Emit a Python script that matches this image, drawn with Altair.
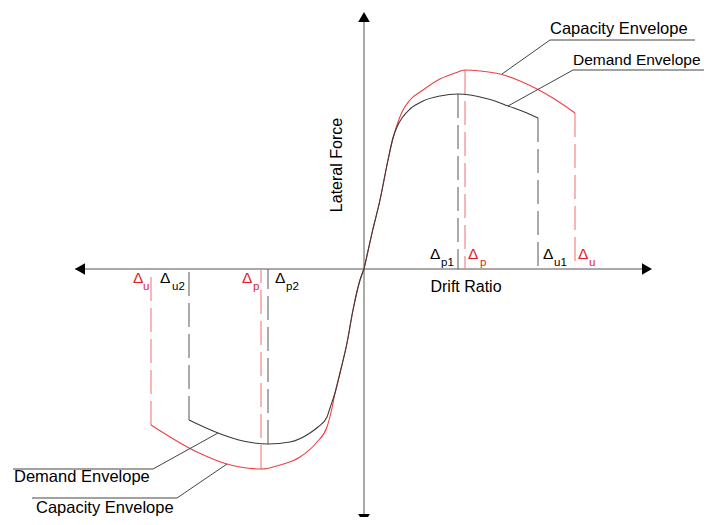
import altair as alt
import pandas as pd

# ---- data (drift ratio / lateral force, arbitrary units) ----
cap_pos_x = [0, .08, .16, .24, .29, .33, .38, .46, .59, .76, .91, 1.01, 1.16, 1.36, 1.56, 1.73, 1.92, 2.11]
cap_pos_y = [0, .36, .69, 1.09, 1.31, 1.44, 1.57, 1.69, 1.79, 1.90, 1.96, 1.99, 1.98, 1.95, 1.88, 1.80, 1.69, 1.56]
dem_pos_x = [0, .08, .16, .24, .29, .33, .38, .46, .59, .76, .94, 1.06, 1.16, 1.31, 1.44, 1.58, 1.74]
dem_pos_y = [0, .36, .69, 1.09, 1.31, 1.42, 1.51, 1.60, 1.68, 1.73, 1.75, 1.74, 1.72, 1.68, 1.63, 1.58, 1.51]
cap_neg_x = [0, -.04, -.11, -.17, -.24, -.29, -.32, -.37, -.47, -.64, -.84, -1.03, -1.24, -1.37, -1.67, -2.13]
cap_neg_y = [0, -.11, -.41, -.74, -1.04, -1.24, -1.39, -1.58, -1.73, -1.88, -1.96, -2.00, -1.98, -1.95, -1.83, -1.56]
dem_neg_x = [0, -.04, -.11, -.17, -.24, -.29, -.34, -.37, -.46, -.54, -.74, -.96, -1.21, -1.46, -1.75]
dem_neg_y = [0, -.11, -.41, -.74, -1.04, -1.24, -1.39, -1.48, -1.58, -1.64, -1.73, -1.75, -1.72, -1.64, -1.51]

# vertical marker lines: x, top/bottom force, kind
mark_x = [0.94, 1.01, 1.74, 2.11, -1.75, -2.13, -0.96, -1.03]
mark_y = [1.75, 1.99, 1.51, 1.56, -1.51, -1.56, -1.75, -2.00]
mark_kind = ["Demand", "Capacity", "Demand", "Capacity", "Demand", "Capacity", "Demand", "Capacity"]

# delta labels
dl_x = [0.66, 1.04, 1.79, 2.14, -2.31, -2.04, -1.22, -0.89]
dl_y = [0.10, 0.10, 0.10, 0.10, -0.14, -0.14, -0.14, -0.14]
dl_sub = ["p1", "p", "u1", "u", "u", "u2", "p", "p2"]
dl_sub_x = [0.77, 1.16, 1.90, 2.25, -2.21, -1.92, -1.11, -0.78]
dl_kind = ["Demand", "Capacity", "Demand", "Capacity", "Capacity", "Demand", "Capacity", "Demand"]

# leader lines to envelope labels
lead_x = [[1.38, 1.86, 3.31], [1.44, 2.09, 3.48], [-1.46, -2.11, -3.51], [-1.37, -1.87, -3.32]]
lead_y = [[1.95, 2.29, 2.29], [1.63, 1.99, 1.99], [-1.64, -2.00, -2.00], [-1.95, -2.29, -2.29]]
lab_text = ["Capacity Envelope", "Demand Envelope", "Demand Envelope", "Capacity Envelope"]
lab_x = [1.86, 2.09, -3.50, -3.28]
lab_y = [2.35, 2.04, -2.13, -2.44]

XD = [-3.56, 3.40]
YD = [-2.48, 2.61]

RED = "#ef3f42"
RED_LBL = "#e3202a"
RED_DASH = "#f07a7c"
DARK = "#3a3a3a"
GREY_DASH = "#666666"

xs = alt.Scale(domain=XD, nice=False, zero=False)
ys = alt.Scale(domain=YD, nice=False, zero=False)

rows = []
for name, xx, yy in [("Capacity+", cap_pos_x, cap_pos_y), ("Demand+", dem_pos_x, dem_pos_y),
                     ("Capacity-", cap_neg_x, cap_neg_y), ("Demand-", dem_neg_x, dem_neg_y)]:
    for i, (a, b) in enumerate(zip(xx, yy)):
        rows.append({"x": a, "y": b, "seg": name, "kind": name[:-1], "i": i})
curves = pd.DataFrame(rows)


def X(f="x"):
    return alt.X(f"{f}:Q", scale=xs, axis=None)


def Y(f="y"):
    return alt.Y(f"{f}:Q", scale=ys, axis=None)


curve_layer = alt.Chart(curves).mark_line(strokeWidth=1.1, interpolate="monotone").encode(
    x=X(), y=Y(), detail="seg:N", order="i:Q",
    color=alt.Color("kind:N", scale=alt.Scale(domain=["Capacity", "Demand"], range=[RED, DARK]), legend=None))

marks = pd.DataFrame({"x": mark_x, "y": mark_y, "y0": [0] * len(mark_x), "kind": mark_kind})
dash_layer = alt.Chart(marks).mark_rule(strokeWidth=1.1, strokeDash=[24, 7]).encode(
    x=X(), y=Y(), y2="y0:Q",
    color=alt.Color("kind:N", scale=alt.Scale(domain=["Capacity", "Demand"], range=[RED_DASH, GREY_DASH]), legend=None))

# axes
axes = pd.DataFrame({"x": [0, -2.89], "x2": [0, 2.83], "y": [2.50, 0], "y2": [-2.46, 0]})
axis_layer = alt.Chart(axes).mark_rule(color="#555555", strokeWidth=1).encode(
    x=X(), x2="x2:Q", y=Y(), y2="y2:Q")

arrows = pd.DataFrame({"x": [0, 0, -2.84, 2.83], "y": [2.52, -2.50, 0, 0],
                       "shape": ["triangle-up", "triangle-down", "triangle-left", "triangle-right"]})
arrow_layer = alt.Chart(arrows).mark_point(filled=True, color="black", opacity=1, size=135).encode(
    x=X(), y=Y(), shape=alt.Shape("shape:N", scale=None))

lrows = []
for k, (lx, ly) in enumerate(zip(lead_x, lead_y)):
    for i, (a, b) in enumerate(zip(lx, ly)):
        lrows.append({"x": a, "y": b, "g": k, "i": i})
lead_layer = alt.Chart(pd.DataFrame(lrows)).mark_line(color="#444444", strokeWidth=1).encode(
    x=X(), y=Y(), detail="g:N", order="i:Q")

labels = pd.DataFrame({"x": lab_x, "y": lab_y, "t": lab_text, "fs": [16.5, 15.5, 16.5, 16.5]})
label_layer = alt.Chart(labels).mark_text(align="left", baseline="alphabetic",
                                          font="Liberation Sans", color="black").encode(
    x=X(), y=Y(), text="t:N", size=alt.Size("fs:Q", scale=None, legend=None))

titles = pd.DataFrame({"x": [1.02, -0.27], "y": [-0.23, 1.04], "t": ["Drift Ratio", "Lateral Force"]})
title_x = alt.Chart(titles.iloc[[0]]).mark_text(align="center", baseline="alphabetic", fontSize=16,
                                                font="Liberation Sans", color="black").encode(
    x=X(), y=Y(), text="t:N")
title_y = alt.Chart(titles.iloc[[1]]).mark_text(align="center", baseline="middle", fontSize=16, angle=270,
                                                font="Liberation Sans", color="black").encode(
    x=X(), y=Y(), text="t:N")

dl = pd.DataFrame({"x": dl_x, "y": dl_y, "sx": dl_sub_x, "sub": dl_sub, "kind": dl_kind,
                   "d": ["Δ"] * len(dl_x)})
dl["sy"] = dl["y"] - 0.07


def lbl_color():
    return alt.Color("kind:N", scale=alt.Scale(domain=["Capacity", "Demand"], range=[RED_LBL, "black"]),
                     legend=None)


delta_layer = alt.Chart(dl).mark_text(align="left", baseline="alphabetic", fontSize=15.5,
                                      font="Liberation Sans").encode(
    x=X(), y=Y(), text="d:N", color=lbl_color())
sub_layer = alt.Chart(dl).mark_text(align="left", baseline="alphabetic", fontSize=11.5,
                                    font="Liberation Sans").encode(
    x=X("sx"), y=Y("sy"), text="sub:N", color=lbl_color())

chart = alt.layer(axis_layer, dash_layer, curve_layer, lead_layer, arrow_layer,
                  label_layer, title_x, title_y, delta_layer, sub_layer).resolve_scale(
    color="independent", size="independent", shape="independent"
).properties(
    width=696, height=509, autosize=alt.AutoSizeParams(type="none"), padding=0,
    background="white"
).configure_view(stroke=None)

chart.save("out.html", embed_options={"renderer": "svg", "actions": False})
